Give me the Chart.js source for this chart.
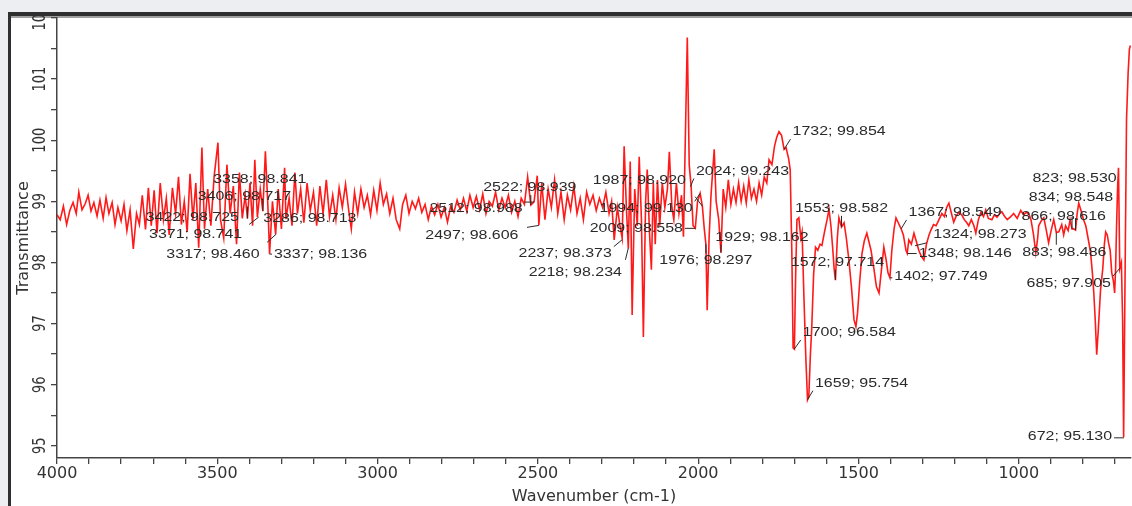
<!DOCTYPE html>
<html>
<head>
<meta charset="utf-8">
<title>FTIR spectrum</title>
<script src="https://cdn.jsdelivr.net/npm/chart.js@4.4.1/dist/chart.umd.min.js"></script>
<style>
  html, body { margin: 0; padding: 0; width: 1132px; height: 506px; overflow: hidden; background: #eceef1; }
  #frame { position: absolute; left: 8px; top: 12px; width: 1130px; height: 500px; background: #fff;
           border-left: 3px solid #2f2f2f; border-top: 4px solid #2f2f2f; }
  #frame:before { content: ''; position: absolute; left: 0; right: 0; top: 0; height: 2px; background: #a0a0a0; }
  #chart { position: absolute; left: 11px; top: 16px; }
</style>
</head>
<body>
<div id="frame"></div>
<canvas id="chart" width="1121" height="490"></canvas>
<script>
// spectrum
const wavenumber = [
  4000, 3990, 3980, 3970, 3960, 3950, 3940, 3932, 3922, 3912,
  3903, 3894, 3885, 3875, 3866, 3856, 3847, 3838, 3828, 3819,
  3810, 3800, 3791, 3782, 3772, 3762, 3752, 3743, 3734, 3724,
  3715, 3706, 3697, 3688, 3678, 3668, 3659, 3650, 3640, 3630,
  3621, 3612, 3603, 3594, 3585, 3576, 3567, 3558, 3548, 3540,
  3530, 3520, 3510, 3498, 3490, 3480, 3470, 3460, 3450, 3440,
  3431, 3422, 3413, 3406, 3398, 3390, 3383, 3375, 3366, 3358,
  3350, 3342, 3337, 3328, 3318, 3310, 3300, 3290, 3286, 3276,
  3267, 3258, 3250, 3240, 3230, 3220, 3210, 3200, 3190, 3180,
  3170, 3160, 3150, 3140, 3130, 3120, 3110, 3100, 3090, 3082,
  3072, 3062, 3052, 3042, 3032, 3022, 3012, 3002, 2992, 2982,
  2972, 2962, 2952, 2942, 2931, 2922, 2912, 2902, 2892, 2882,
  2872, 2862, 2852, 2842, 2832, 2822, 2812, 2802, 2792, 2782,
  2772, 2762, 2752, 2742, 2732, 2722, 2712, 2702, 2692, 2682,
  2672, 2662, 2652, 2642, 2632, 2622, 2612, 2602, 2592, 2582,
  2572, 2562, 2552, 2542, 2532, 2522, 2512, 2502, 2497, 2488,
  2478, 2468, 2458, 2448, 2438, 2428, 2418, 2408, 2398, 2388,
  2378, 2368, 2358, 2348, 2338, 2328, 2318, 2308, 2298, 2288,
  2278, 2270, 2262, 2252, 2244, 2237, 2231, 2224, 2218, 2212,
  2206, 2198, 2190, 2184, 2177, 2171, 2164, 2159, 2152, 2146,
  2140, 2134, 2127, 2120, 2112, 2104, 2096, 2090, 2082, 2076,
  2068, 2060, 2052, 2046, 2040, 2034, 2028, 2022, 2016, 2009,
  2002, 1994, 1987, 1981, 1976, 1972, 1966, 1960, 1950, 1944,
  1936, 1929, 1922, 1914, 1906, 1898, 1890, 1882, 1874, 1866,
  1858, 1850, 1842, 1834, 1826, 1818, 1810, 1802, 1794, 1786,
  1779, 1770, 1762, 1755, 1748, 1740, 1732, 1726, 1718, 1713,
  1708, 1704, 1700, 1696, 1692, 1686, 1680, 1676, 1670, 1664,
  1659, 1655, 1650, 1646, 1640, 1634, 1627, 1620, 1614, 1606,
  1598, 1592, 1586, 1580, 1576, 1572, 1566, 1561, 1553, 1545,
  1538, 1530, 1522, 1514, 1508, 1503, 1496, 1489, 1482, 1474,
  1468, 1461, 1452, 1444, 1436, 1428, 1421, 1414, 1408, 1402,
  1396, 1389, 1383, 1376, 1367, 1360, 1352, 1348, 1343, 1335,
  1327, 1320, 1312, 1304, 1296, 1288, 1280, 1274, 1266, 1258,
  1249, 1240, 1232, 1225, 1218, 1210, 1203, 1196, 1188, 1178,
  1170, 1162, 1156, 1148, 1140, 1134, 1126, 1118, 1110, 1103,
  1095, 1084, 1076, 1068, 1060, 1053, 1045, 1036, 1025, 1016,
  1005, 994, 985, 976, 969, 962, 954, 947, 941, 938,
  930, 922, 915, 907, 900, 891, 883, 875, 866, 860,
  854, 846, 840, 834, 829, 823, 818, 813, 806, 798,
  791, 784, 776, 770, 766, 761, 757, 752, 745, 738,
  733, 729, 724, 720, 715, 710, 705, 701, 698, 695,
  692, 689, 685, 680, 676, 673, 669, 664, 659, 655, 652
];

const transmittance = [
  98.78, 98.70, 98.92, 98.62, 98.85, 98.98, 98.80, 99.15, 98.86, 98.96,
  99.10, 98.84, 98.98, 98.76, 99.02, 98.72, 99.06, 98.80, 98.98, 98.62,
  98.90, 98.68, 98.95, 98.52, 98.86, 98.22, 98.80, 98.62, 99.10, 98.54,
  99.22, 98.60, 99.18, 98.48, 99.30, 98.70, 99.05, 98.45, 99.22, 98.80,
  99.40, 98.62, 99.00, 98.50, 99.45, 98.70, 99.30, 98.24, 99.88, 98.55,
  99.20, 98.60, 99.40, 99.96, 98.70, 98.40, 99.60, 98.80, 99.25, 98.30,
  99.47, 98.72, 99.10, 98.72, 99.30, 98.60, 99.68, 98.74, 99.20, 98.84,
  99.82, 98.90, 98.14, 99.00, 98.46, 99.20, 98.55, 99.55, 98.71, 99.05,
  98.60, 99.47, 98.80, 99.20, 98.65, 99.30, 98.85, 99.15, 98.60, 99.25,
  98.80, 99.35, 98.75, 99.10, 98.70, 99.22, 98.90, 99.28, 98.85, 98.55,
  99.15, 98.80, 99.20, 98.90, 99.10, 98.78, 99.18, 98.85, 99.30, 98.95,
  99.12, 98.80, 99.05, 98.70, 98.55, 98.95, 99.10, 98.80, 99.00, 98.88,
  99.05, 98.82, 98.95, 98.70, 98.92, 98.78, 98.95, 98.74, 98.90, 98.66,
  98.92, 98.82, 99.02, 98.86, 99.05, 98.84, 99.10, 98.90, 99.08, 98.86,
  99.12, 98.80, 99.00, 98.92, 99.15, 98.86, 99.05, 98.90, 99.10, 98.82,
  99.00, 98.75, 99.05, 98.95, 99.40, 98.94, 98.99, 99.42, 98.61, 99.30,
  98.70, 99.20, 98.90, 99.35, 98.80, 99.15, 98.70, 99.10, 98.86, 99.25,
  98.80, 99.05, 98.70, 99.15, 98.95, 99.10, 98.85, 99.05, 98.90, 99.15,
  98.80, 99.00, 98.37, 98.90, 98.60, 98.40, 99.90, 98.90, 98.23, 99.65,
  97.14, 99.20, 98.60, 99.73, 98.70, 96.78, 99.00, 99.52, 98.50, 97.88,
  99.30, 98.30, 99.35, 98.60, 99.30, 98.90, 99.20, 99.81, 98.90, 98.70,
  99.30, 98.80, 99.10, 98.42, 100.06, 101.68, 99.60, 99.24, 98.60, 98.56,
  99.00, 99.13, 98.92, 98.55, 98.30, 97.22, 98.40, 99.10, 99.85, 99.00,
  98.70, 98.16, 99.20, 98.90, 99.35, 98.95, 99.20, 98.98, 99.30, 99.00,
  99.25, 98.97, 99.35, 99.05, 99.20, 99.00, 99.30, 99.10, 99.40, 99.30,
  99.68, 99.60, 99.90, 100.05, 100.14, 100.08, 99.85, 99.88, 99.70, 99.52,
  98.20, 96.60, 96.58, 97.80, 98.70, 98.73, 98.40, 98.50, 97.40, 96.40,
  95.75, 95.80, 96.50, 96.90, 97.80, 98.25, 98.20, 98.30, 98.28, 98.50,
  98.70, 98.87, 98.60, 98.20, 97.90, 97.71, 98.40, 98.73, 98.58, 98.65,
  98.40, 98.04, 97.60, 97.06, 96.95, 97.17, 97.70, 98.15, 98.35, 98.48,
  98.35, 98.20, 97.90, 97.60, 97.50, 97.90, 98.25, 98.05, 97.83, 97.75,
  98.20, 98.55, 98.73, 98.65, 98.55, 98.45, 98.20, 98.15, 98.37, 98.30,
  98.48, 98.35, 98.20, 98.10, 98.04, 98.30, 98.45, 98.53, 98.62, 98.60,
  98.70, 98.80, 98.75, 98.90, 98.97, 98.80, 98.66, 98.75, 98.82, 98.78,
  98.70, 98.65, 98.60, 98.70, 98.60, 98.48, 98.70, 98.82, 98.75, 98.86,
  98.72, 98.70, 98.78, 98.74, 98.80, 98.83, 98.76, 98.70, 98.75, 98.80,
  98.72, 98.85, 98.78, 98.82, 98.80, 98.70, 98.45, 98.16, 98.40, 98.60,
  98.68, 98.73, 98.55, 98.32, 98.50, 98.70, 98.49, 98.50, 98.62, 98.45,
  98.60, 98.52, 98.70, 98.55, 98.55, 98.53, 98.80, 98.97, 98.85, 98.70,
  98.60, 98.40, 98.16, 97.80, 97.50, 97.00, 96.49, 96.90, 97.55, 97.90,
  98.30, 98.50, 98.45, 98.32, 98.20, 97.83, 97.70, 97.50, 97.90, 98.60,
  99.20, 99.55, 97.90, 98.00, 97.00, 95.14, 97.50, 100.33, 101.10, 101.49, 101.55
];

// axis ticks
const xTickValues = [4000, 3900, 3800, 3700, 3600, 3500, 3400, 3300, 3200, 3100, 3000,
  2900, 2800, 2700, 2600, 2500, 2400, 2300, 2200, 2100, 2000,
  1900, 1800, 1700, 1600, 1500, 1400, 1300, 1200, 1100, 1000, 900, 800, 700];
const yTickValues = [95, 95.5, 96, 96.5, 97, 97.5, 98, 98.5, 99, 99.5, 100, 100.5, 101, 101.5, 102];
const yLabelValues = [95, 96, 97, 98, 99, 100, 101, 102];

// peak picks
const peakWn = [3358, 3406, 3422, 3286, 3371, 3317, 3337, 2522, 2512, 2497, 2237, 2218,
  1987, 1994, 2009, 2024, 1976, 1929, 1732, 1553, 1572, 1700, 1659,
  1367, 1324, 1348, 1402, 823, 834, 866, 883, 685, 672];
const peakT = [98.841, 98.717, 98.725, 98.713, 98.741, 98.460, 98.136, 98.939, 98.988, 98.606, 98.373, 98.234,
  98.920, 99.130, 98.558, 99.243, 98.297, 98.162, 99.854, 98.582, 97.714, 96.584, 95.754,
  98.549, 98.273, 98.146, 97.749, 98.530, 98.548, 98.616, 98.486, 97.905, 95.130];

// where each pick's text sits relative to its point (px)
const labelOffsets = [[-3, -31], [-3, -22], [-50, 0], [24, 0], [-63, 18], [-63, 20], [51, 1],
  [-1, -17], [-58, 7], [-67, 10], [-57, 14], [-53, 25],
  [-63, -26], [-54, 15], [-59, 0], [52, -15], [0, 16], [41, -15],
  [55, -17], [0, -18], [2, -17], [55, -16], [54, -16],
  [54, -16], [65, -11], [58, 0], [51, -1],
  [-1, -51], [-1, -31], [2, -8], [8, 20], [-51, 15], [-54, -1]];

const peakLabels = {
  id: 'peakLabels',
  afterDatasetsDraw(chart) {
    const ctx = chart.ctx;
    const xs = chart.scales.x, ys = chart.scales.y;
    const stretch = 1.33;
    ctx.save();
    ctx.font = '12px "Liberation Sans", Arial, sans-serif';
    ctx.fillStyle = '#2a2a2a';
    ctx.strokeStyle = '#2a2a2a';
    ctx.lineWidth = 1;
    ctx.textAlign = 'center';
    ctx.textBaseline = 'middle';
    peakWn.forEach(function (wn, i) {
      const px = xs.getPixelForValue(wn);
      const py = ys.getPixelForValue(peakT[i]);
      const text = wn + '; ' + peakT[i].toFixed(3);
      const w = ctx.measureText(text).width * stretch;
      const h = 10;
      const cx = px + labelOffsets[i][0];
      const cy = py + labelOffsets[i][1];
      // short leader from the point toward the text
      const qx = Math.max(cx - w / 2 - 2, Math.min(px, cx + w / 2 + 2));
      const qy = Math.max(cy - h / 2 - 2, Math.min(py, cy + h / 2 + 2));
      const dx = qx - px, dy = qy - py;
      const d = Math.hypot(dx, dy);
      if (d > 2) {
        const k = Math.min(1, 12 / d);
        ctx.beginPath();
        ctx.moveTo(px, py);
        ctx.lineTo(px + dx * k, py + dy * k);
        ctx.stroke();
      }
      ctx.save();
      ctx.translate(cx, cy);
      ctx.scale(stretch, 1);
      ctx.fillText(text, 0, 0);
      ctx.restore();
    });
    ctx.restore();
  },
  afterDraw(chart) {
    // rotated y tick labels
    const ctx = chart.ctx;
    const ys = chart.scales.y;
    ctx.save();
    ctx.font = '13px "DejaVu Sans", sans-serif';
    ctx.fillStyle = '#333';
    ctx.textAlign = 'center';
    ctx.textBaseline = 'middle';
    yLabelValues.forEach(function (v) {
      ctx.save();
      ctx.translate(30, ys.getPixelForValue(v));
      ctx.rotate(-Math.PI / 2);
      ctx.scale(1, 1.3);
      ctx.fillText(String(v), 0, 0);
      ctx.restore();
    });
    ctx.restore();
  }
};

const ctx = document.getElementById('chart').getContext('2d');
new Chart(ctx, {
  type: 'line',
  data: {
    datasets: [{
      data: wavenumber.map(function (w, i) { return { x: w, y: transmittance[i] }; }),
      borderColor: 'rgba(255, 0, 0, 0.9)',
      borderWidth: 1.6,
      pointRadius: 0,
      tension: 0,
      fill: false
    }]
  },
  options: {
    responsive: false,
    animation: false,
    layout: { padding: { top: 2, right: 1, left: 0, bottom: 0 } },
    plugins: { legend: { display: false }, tooltip: { enabled: false } },
    scales: {
      x: {
        type: 'linear',
        reverse: true,
        min: 650,
        max: 4000,
        afterBuildTicks: function (axis) { axis.ticks = xTickValues.map(function (v) { return { value: v }; }); },
        afterFit: function (axis) { axis.height = 48; },
        ticks: {
          autoSkip: false,
          maxRotation: 0,
          padding: 0,
          color: '#333',
          font: { family: 'DejaVu Sans', size: 16 },
          callback: function (v) { return v % 500 === 0 ? String(v) : ''; }
        },
        grid: { display: true, drawOnChartArea: false, drawTicks: true, tickLength: 6, color: '#444', lineWidth: 1.3 },
        border: { display: true, color: '#444', width: 1.5 },
        title: { display: true, text: 'Wavenumber (cm-1)', color: '#333', font: { family: 'DejaVu Sans', size: 16 }, padding: { top: 0, bottom: 0 } }
      },
      y: {
        type: 'linear',
        min: 94.8,
        max: 102,
        afterBuildTicks: function (axis) { axis.ticks = yTickValues.map(function (v) { return { value: v }; }); },
        afterFit: function (axis) { axis.width = 46; },
        ticks: { display: false },
        grid: { display: true, drawOnChartArea: false, drawTicks: true, tickLength: 6, color: '#444', lineWidth: 1.3 },
        border: { display: true, color: '#444', width: 1.5 },
        title: { display: true, text: 'Transmittance', color: '#333', font: { family: 'DejaVu Sans', size: 16 }, padding: { top: 3, bottom: 0 } }
      }
    }
  },
  plugins: [peakLabels]
});
</script>
</body>
</html>
